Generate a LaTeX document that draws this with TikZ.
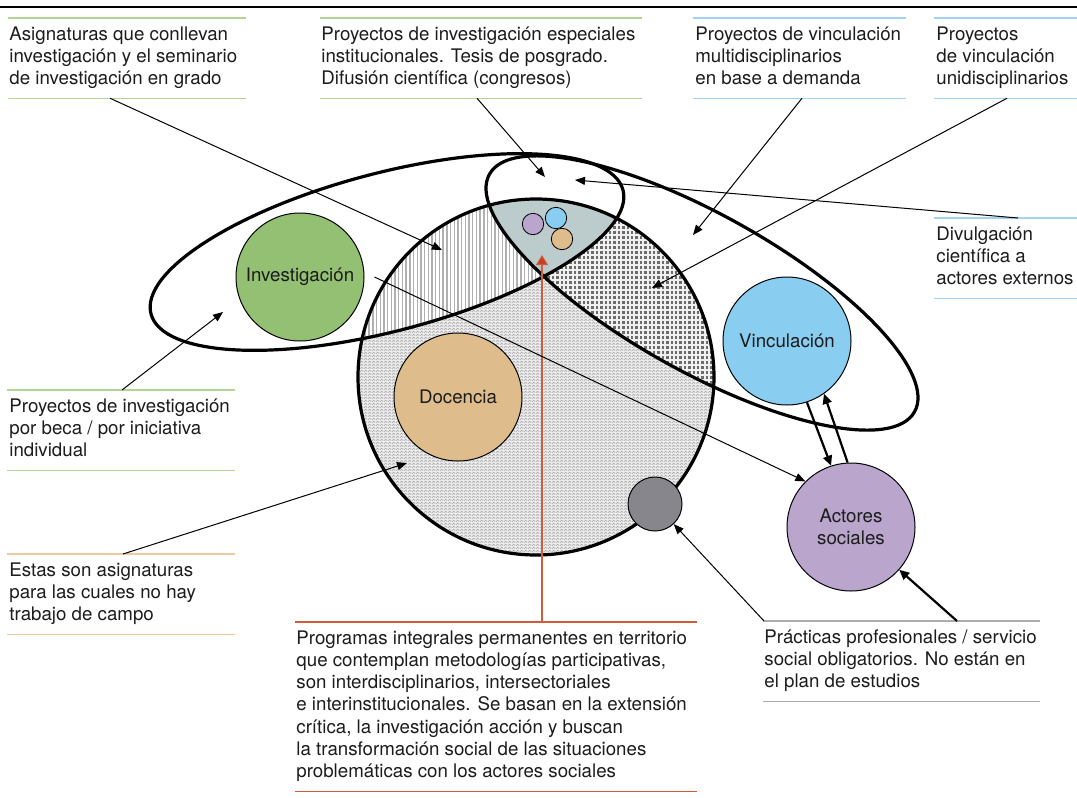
\documentclass[tikz,border=0pt]{standalone}
\usepackage{fontspec}
\setmainfont{TeX Gyre Heros}
\usetikzlibrary{positioning,arrows.meta,patterns.meta}

\definecolor{invgreen}{RGB}{147,192,114}
\definecolor{docbrown}{RGB}{222,188,140}
\definecolor{vincblue}{RGB}{137,206,240}
\definecolor{actpurple}{RGB}{186,165,205}
\definecolor{darkdot}{RGB}{135,134,140}
\definecolor{lensgray}{RGB}{188,204,204}
\definecolor{rulegreen}{RGB}{178,213,148}
\definecolor{ruleblue}{RGB}{160,212,242}
\definecolor{ruleorange}{RGB}{238,202,160}
\definecolor{rulered}{RGB}{208,92,62}
\definecolor{rulegray}{RGB}{172,172,178}
\definecolor{arrowred}{RGB}{200,60,35}
\definecolor{inktext}{RGB}{28,28,28}

\newcommand\notefont{\fontsize{9.35}{11.15}\selectfont}
\newcommand\lblstrut{\rule[-2.6pt]{0pt}{10.6pt}}

\tikzdeclarepattern{
  name=zigzag,
  type=uncolored,
  bounding box={(0pt,0pt) and (2pt,1.5pt)},
  tile size={(2pt,1.5pt)},
  code={
    \draw[line width=0.35pt] (0pt,0.25pt) -- (1pt,1.25pt) -- (2pt,0.25pt);
  }
}

\tikzset{
  area/.style={circle,draw=black,line width=0.5pt,minimum size=64pt,inner sep=0pt,
    font=\notefont,text=inktext,align=center},
  dot/.style={circle,draw=black,line width=0.4pt,minimum size=10.7pt,inner sep=0pt},
  note/.style={anchor=north west,inner xsep=0pt,inner ysep=4pt,align=left,font=\notefont,
    text=inktext,execute at begin node=\lblstrut,execute at end node=\lblstrut},
  pointer/.style={draw=black,line width=0.5pt,-{Triangle[length=5pt,width=4pt]}},
  bigpointer/.style={draw=black,line width=1.1pt,-{Triangle[length=5pt,width=4.5pt]}},
  redpointer/.style={draw=rulered,line width=0.55pt,-{Triangle[length=5pt,width=6pt,fill=arrowred]}},
  outline/.style={draw=black,line width=1.6pt},
  notrule/.style={line width=0.7pt},
  ellinv/.style={rotate around={14.7:(387,252)}},   % tilted up to the right
  ellvinc/.style={rotate around={-29.2:(702,293)}}
}

\begin{document}
\begin{tikzpicture}[x=0.5pt,y=-0.5pt]
\useasboundingbox (0,0) rectangle (1077,798);
\draw[line width=1pt] (0,7) -- (1077,7);

% regions of the big circle
\begin{scope}
  \clip (536,377) circle[radius=178];
  \fill[gray!14] (536,377) circle[radius=178];
  \fill[pattern=zigzag,pattern color=gray!70] (536,377) circle[radius=178];
  \begin{scope}
    \clip[ellinv] (387,252) ellipse[x radius=244,y radius=79];
    \fill[white] (340,190) rectangle (720,420);
    \foreach \x in {358,361.7,...,720}
      \draw[gray!62,line width=0.7pt] (\x,190) -- (\x,420);
  \end{scope}
  \begin{scope}
    \clip[ellvinc] (702,293) ellipse[x radius=243.5,y radius=78.4];
    \fill[black!58] (520,190) rectangle (720,420);
    \foreach \x in {520,524.4,...,720}
      \draw[gray!12,line width=0.95pt] (\x,190) -- (\x,420);
    \foreach \y in {190,195,...,420}
      \draw[gray!12,line width=0.7pt] (520,\y) -- (720,\y);
  \end{scope}
  \begin{scope}
    \clip[ellinv] (387,252) ellipse[x radius=244,y radius=79];
    \clip[ellvinc] (702,293) ellipse[x radius=243.5,y radius=78.4];
    \fill[lensgray] (440,180) rectangle (660,300);
  \end{scope}
\end{scope}
\draw[outline] (536,377) circle[radius=178];
\draw[outline,ellinv] (387,252) ellipse[x radius=244,y radius=79];
\draw[outline,ellvinc] (702,293) ellipse[x radius=243.5,y radius=78.4];

\node[area,fill=invgreen] (inv) at (300,277) {Investigación};
\node[area,fill=docbrown] (doc) at (458,397) {Docencia};
\node[area,fill=vincblue] (vinc) at (787,341) {Vinculación};
\node[area,fill=actpurple] (act) at (851,527) {Actores\\sociales};
\node[area,fill=darkdot,minimum size=27pt] (pract) at (655,504) {};
\node[dot,fill=actpurple] (dot1) at (533,224) {};
\node[dot,fill=vincblue] (dot2) at (556,218) {};
\node[dot,fill=docbrown] (dot3) at (562,239) {};

\node[note] (asig) at (9,18) {Asignaturas que conllevan\\investigación y el seminario\\de investigación en grado};
\node[note] (espec) at (321,18) {Proyectos de investigación especiales\\institucionales. Tesis de posgrado.\\Difusión científica (congresos)};
\node[note] (multi) at (695,18) {Proyectos de vinculación\\multidisciplinarios\\en base a demanda};
\node[note] (uni) at (936,18) {Proyectos\\de vinculación\\unidisciplinarios};
\node[note] (divulg) at (936,218) {Divulgación\\científica a\\actores externos};
\node[note] (beca) at (9,390) {Proyectos de investigación\\por beca / por iniciativa\\individual};
\node[note] (campo) at (9,554) {Estas son asignaturas\\para las cuales no hay\\trabajo de campo};
\node[note] (prog) at (296,622) {Programas integrales permanentes en territorio\\que contemplan metodologías participativas,\\son interdisciplinarios, intersectoriales\\e interinstitucionales. Se basan en la extensión\\crítica, la investigación acción y buscan\\la transformación social de las situaciones\\problemáticas con los actores sociales};
\node[note] (prac) at (764,621) {Prácticas profesionales / servicio\\social obligatorios. No están en\\el plan de estudios};

\draw[notrule,rulegreen] (8,18) -- (246,18) (asig.south -| 8,0) -- (asig.south -| 246,0);
\draw[notrule,rulegreen] (320,18) -- (642,18) (espec.south -| 320,0) -- (espec.south -| 642,0);
\draw[notrule,ruleblue] (693,18) -- (906,18) (multi.south -| 693,0) -- (multi.south -| 906,0);
\draw[notrule,ruleblue] (934,18) -- (1077,18) (uni.south -| 934,0) -- (uni.south -| 1077,0);
\draw[notrule,ruleblue] (934,218) -- (1077,218) (divulg.south -| 934,0) -- (divulg.south -| 1077,0);
\draw[notrule,rulegreen] (7,390) -- (235,390) (beca.south -| 7,0) -- (beca.south -| 235,0);
\draw[notrule,ruleorange] (7,554) -- (235,554) (campo.south -| 7,0) -- (campo.south -| 235,0);
\draw[notrule,rulered] (295,622) -- (697,622) (prog.south -| 295,0) -- (prog.south -| 697,0);
\draw[notrule,rulegray] (763,621) -- (1040,621) (prac.south -| 763,0) -- (prac.south -| 1040,0);

\coordinate (tip-asig) at (442,250);
\coordinate (tip-espec) at (545,177);
\coordinate (tip-multi) at (693,235);
\coordinate (tip-uni) at (652,288);
\coordinate (tip-divulg) at (575,180);
\coordinate (tip-beca) at (223,312);
\coordinate (tip-campo) at (407,463);
\coordinate (tip-prog) at (542,255);

\draw[pointer] (asig.south -| 110,0) -- (tip-asig);
\draw[pointer] (espec.south -| 477,0) -- (tip-espec);
\draw[pointer] (multi.south -| 802,0) -- (tip-multi);
\draw[pointer] (uni.south -| 1007,0) -- (tip-uni);
\draw[pointer] (divulg.north -| 1018,0) -- (tip-divulg);
\draw[pointer] (beca.north -| 122,0) -- (tip-beca);
\draw[pointer] (campo.north -| 123,0) -- (tip-campo);
\draw[redpointer] (prog.north -| 542,0) -- (tip-prog);
\draw[pointer] ([xshift=5pt]inv.east) -- (act.north west);
\draw[pointer] (prac.north west) -- (pract);
\draw[bigpointer] (prac.north -| 957,0) -- (act);
\draw[bigpointer] (vinc.-72) -- (act.108);
\draw[bigpointer] (act.93) -- (vinc.-55);
\end{tikzpicture}
\end{document}
